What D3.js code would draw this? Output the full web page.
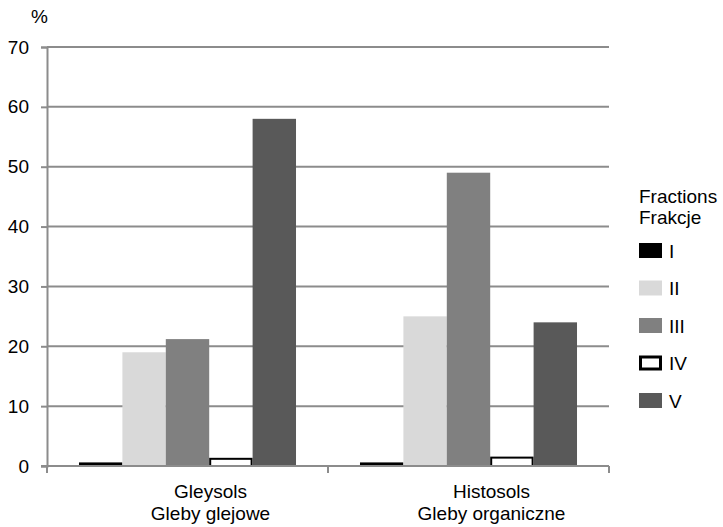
<!DOCTYPE html>
<html>
<head>
<meta charset="utf-8">
<script src="https://cdn.jsdelivr.net/npm/d3@7"></script>
<style>
  html, body { margin: 0; padding: 0; background: #fff; }
  svg { display: block; font-family: "Liberation Sans", Arial, sans-serif; }
</style>
</head>
<body>
<svg id="chart" width="723" height="527"></svg>
<script>
// Soil types (two-line labels) and fraction shares in %
const categories = ["Gleysols|Gleby glejowe", "Histosols|Gleby organiczne"];
const fractions = ["I", "II", "III", "IV", "V"];
const valuesI   = [0.6, 0.6];
const valuesII  = [19, 25];
const valuesIII = [21.2, 49];
const valuesIV  = [1.2, 1.4];
const valuesV   = [58, 24];
const yTicks = [0, 10, 20, 30, 40, 50, 60, 70];
const legendTitle = ["Fractions", "Frakcje"];

const series = [valuesI, valuesII, valuesIII, valuesIV, valuesV];
const fills   = ["#000000", "#d9d9d9", "#808080", "#ffffff", "#595959"];
const strokes = [null, null, null, "#000000", null];

const svg = d3.select("#chart");
const plot = { left: 47, right: 609, top: 47, bottom: 466 };
const fontSize = 19;

const y = d3.scaleLinear().domain([0, 70]).range([plot.bottom, plot.top]);
const x0 = d3.scaleBand().domain(categories).range([plot.left, plot.right]).padding(0);
const x1 = d3.scaleBand().domain(fractions).range([0, x0.bandwidth()])
  .paddingInner(0).paddingOuter(0.737);

const gridColor = "#8c8c8c";

// horizontal gridlines
svg.append("g")
  .selectAll("line")
  .data(yTicks.filter(d => d > 0))
  .join("line")
  .attr("x1", plot.left).attr("x2", plot.right)
  .attr("y1", d => y(d)).attr("y2", d => y(d))
  .attr("stroke", gridColor).attr("stroke-width", 2);

// bars
const rows = [];
categories.forEach((c, ci) => {
  fractions.forEach((f, fi) => rows.push({ c, f, fi, v: series[fi][ci] }));
});
svg.append("g")
  .selectAll("rect")
  .data(rows)
  .join("rect")
  .attr("x", d => x0(d.c) + x1(d.f) + (strokes[d.fi] ? 1 : 0))
  .attr("width", d => x1.bandwidth() - (strokes[d.fi] ? 2 : 0))
  .attr("y", d => y(d.v))
  .attr("height", d => plot.bottom - y(d.v))
  .attr("fill", d => fills[d.fi])
  .attr("stroke", d => strokes[d.fi] || "none")
  .attr("stroke-width", 2);

// y axis
const yAxis = d3.axisLeft(y).tickValues(yTicks).tickSize(6).tickPadding(12).tickFormat(d3.format("d"));
const gy = svg.append("g").attr("transform", `translate(${plot.left},0)`).call(yAxis);
gy.select(".domain").attr("stroke", gridColor).attr("stroke-width", 2);
gy.selectAll(".tick line").attr("stroke", gridColor).attr("stroke-width", 2);
gy.selectAll(".tick text").attr("font-size", fontSize).attr("fill", "#000")
  .attr("font-family", "Liberation Sans, Arial, sans-serif");

// x axis with boundary ticks
const gx = svg.append("g").attr("transform", `translate(0,${plot.bottom})`);
gx.append("line").attr("x1", plot.left - 6).attr("x2", plot.right)
  .attr("stroke", gridColor).attr("stroke-width", 2);
const bounds = categories.map(c => x0(c)).concat([plot.right]);
gx.selectAll(".bt").data(bounds).join("line").attr("class", "bt")
  .attr("x1", d => d).attr("x2", d => d).attr("y1", 0).attr("y2", 7)
  .attr("stroke", gridColor).attr("stroke-width", 2);

// category labels
categories.forEach(c => {
  const lines = c.split("|");
  const cx = x0(c) + x0.bandwidth() / 2 + 23;
  const t = svg.append("text").attr("text-anchor", "middle")
    .attr("font-size", fontSize).attr("fill", "#000");
  lines.forEach((l, i) => t.append("tspan").attr("x", cx).attr("y", 498 + i * 22).text(l));
});

// axis unit
svg.append("text").attr("x", 39.5).attr("y", 23).attr("text-anchor", "middle")
  .attr("font-size", fontSize).attr("fill", "#000").text("%");

// legend
const lg = svg.append("g");
legendTitle.forEach((t, i) => lg.append("text").attr("x", 639).attr("y", 203 + i * 21)
  .attr("font-size", fontSize).attr("fill", "#000").text(t));
const items = lg.selectAll(".item").data(fractions).join("g").attr("class", "item")
  .attr("transform", (d, i) => `translate(639,${250.5 + i * 37.5})`);
items.append("rect")
  .attr("x", (d, i) => strokes[i] ? 1.5 : 0)
  .attr("y", (d, i) => -7.5 + (strokes[i] ? 1.5 : 0))
  .attr("width", (d, i) => 23 - (strokes[i] ? 3 : 0))
  .attr("height", (d, i) => 15 - (strokes[i] ? 3 : 0))
  .attr("fill", (d, i) => fills[i])
  .attr("stroke", (d, i) => strokes[i] || "none")
  .attr("stroke-width", 3);
items.append("text").attr("x", 30).attr("y", 7).attr("font-size", fontSize).attr("fill", "#000")
  .text(d => d);
</script>
</body>
</html>
